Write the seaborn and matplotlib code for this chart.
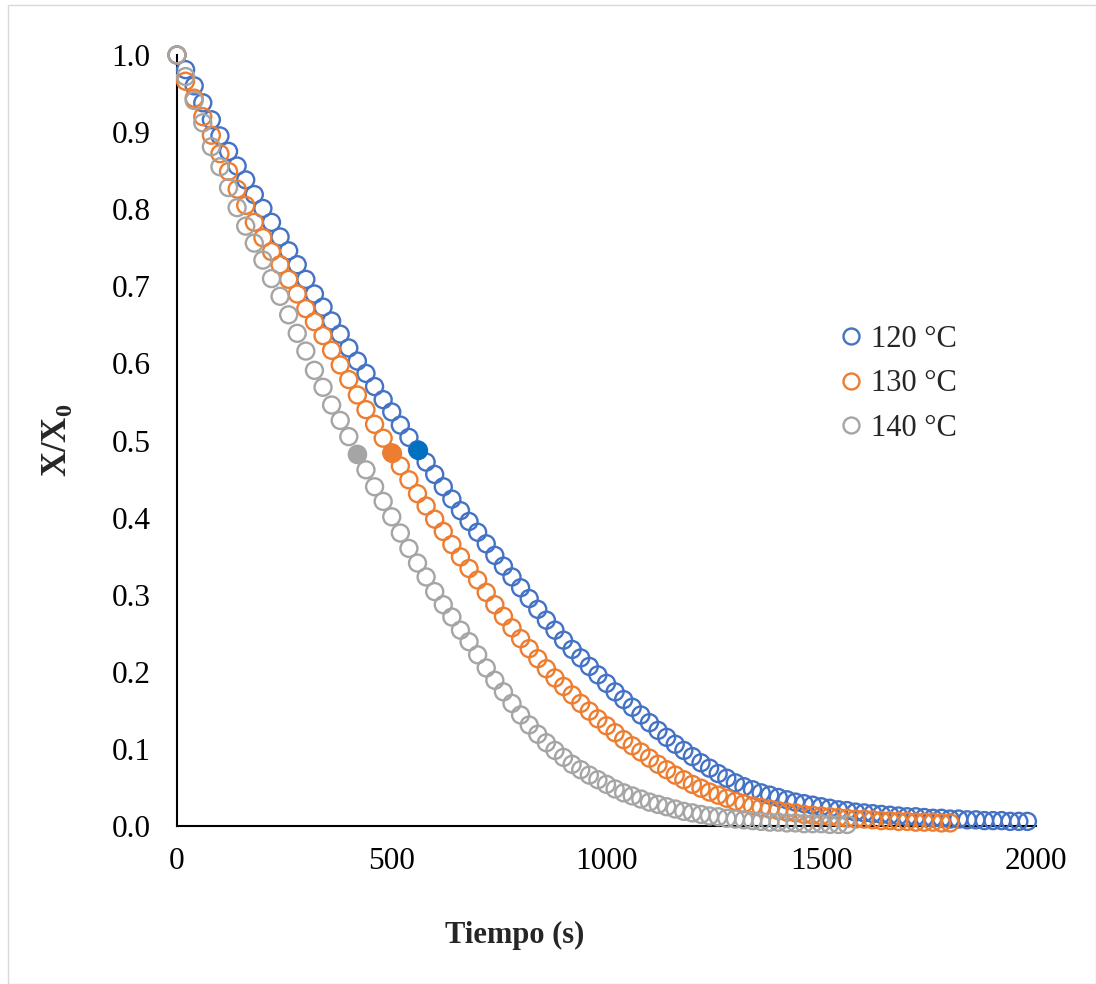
import matplotlib
matplotlib.use("Agg")
import matplotlib.pyplot as plt
from matplotlib.lines import Line2D
from matplotlib.patches import Rectangle
import seaborn as sns
import pandas as pd

# ---------------- data ----------------
t_120 = list(range(0, 2000, 20))
y_120 = [1.000, 0.981, 0.960, 0.938, 0.916, 0.895, 0.875, 0.856, 0.838, 0.819,
         0.801, 0.783, 0.764, 0.746, 0.728, 0.709, 0.690, 0.673, 0.655, 0.638,
         0.620, 0.603, 0.587, 0.570, 0.553, 0.537, 0.520, 0.504, 0.488, 0.472,
         0.456, 0.440, 0.424, 0.409, 0.395, 0.381, 0.366, 0.351, 0.337, 0.323,
         0.309, 0.295, 0.281, 0.267, 0.254, 0.241, 0.229, 0.218, 0.207, 0.196,
         0.185, 0.174, 0.164, 0.154, 0.144, 0.134, 0.124, 0.115, 0.106, 0.098,
         0.090, 0.082, 0.075, 0.068, 0.062, 0.056, 0.051, 0.047, 0.043, 0.040,
         0.037, 0.034, 0.031, 0.029, 0.027, 0.025, 0.023, 0.021, 0.020, 0.018,
         0.017, 0.016, 0.015, 0.014, 0.013, 0.012, 0.012, 0.011, 0.010, 0.010,
         0.009, 0.009, 0.008, 0.008, 0.007, 0.007, 0.007, 0.006, 0.006, 0.006]

t_130 = list(range(0, 1820, 20))
y_130 = [1.000, 0.966, 0.944, 0.920, 0.896, 0.872, 0.849, 0.826, 0.805, 0.783,
         0.763, 0.745, 0.728, 0.709, 0.690, 0.671, 0.654, 0.636, 0.617, 0.598,
         0.579, 0.559, 0.540, 0.521, 0.503, 0.484, 0.467, 0.449, 0.431, 0.415,
         0.398, 0.382, 0.365, 0.349, 0.334, 0.319, 0.303, 0.287, 0.272, 0.257,
         0.243, 0.230, 0.217, 0.204, 0.192, 0.181, 0.170, 0.159, 0.149, 0.139,
         0.130, 0.121, 0.112, 0.104, 0.096, 0.088, 0.080, 0.073, 0.066, 0.060,
         0.054, 0.049, 0.044, 0.040, 0.036, 0.032, 0.029, 0.026, 0.024, 0.022,
         0.020, 0.018, 0.017, 0.015, 0.014, 0.013, 0.012, 0.011, 0.010, 0.009,
         0.009, 0.008, 0.007, 0.007, 0.006, 0.006, 0.005, 0.005, 0.005, 0.004,
         0.004]

t_140 = list(range(0, 1580, 20))
y_140 = [1.000, 0.972, 0.941, 0.912, 0.881, 0.855, 0.828, 0.802, 0.778, 0.756,
         0.734, 0.710, 0.687, 0.663, 0.639, 0.616, 0.591, 0.569, 0.546, 0.526,
         0.505, 0.482, 0.462, 0.440, 0.421, 0.401, 0.380, 0.360, 0.341, 0.323,
         0.304, 0.287, 0.271, 0.254, 0.239, 0.222, 0.205, 0.189, 0.174, 0.159,
         0.144, 0.131, 0.119, 0.108, 0.098, 0.089, 0.080, 0.073, 0.066, 0.060,
         0.054, 0.048, 0.043, 0.039, 0.035, 0.031, 0.028, 0.025, 0.022, 0.019,
         0.017, 0.015, 0.013, 0.012, 0.010, 0.009, 0.008, 0.007, 0.006, 0.005,
         0.005, 0.004, 0.004, 0.003, 0.003, 0.003, 0.002, 0.002, 0.002]

series_names = ["120 °C", "130 °C", "140 °C"]
series_colors = ["#4472C4", "#ED7D31", "#A5A5A5"]
highlight_colors = ["#0070C0", "#ED7D31", "#A5A5A5"]
highlight_times = [560, 500, 420]

x_ticks = [0, 500, 1000, 1500, 2000]
y_ticks = [0.0, 0.1, 0.2, 0.3, 0.4, 0.5, 0.6, 0.7, 0.8, 0.9, 1.0]

# ---------------- build tables ----------------
frames = []
for name, t, y in zip(series_names, [t_120, t_130, t_140], [y_120, y_130, y_140]):
    frames.append(pd.DataFrame({"t": t, "r": y, "serie": name}))
df = pd.concat(frames, ignore_index=True)

hl_rows = []
for name, ht in zip(series_names, highlight_times):
    sub = df[(df["serie"] == name) & (df["t"] == ht)]
    hl_rows.append(sub)
hl = pd.concat(hl_rows, ignore_index=True)

# ---------------- style ----------------
sns.set_theme(style="white")
plt.rcParams["font.family"] = ["Liberation Serif", "DejaVu Serif"]
plt.rcParams["mathtext.fontset"] = "custom"
plt.rcParams["mathtext.rm"] = "Liberation Serif"
plt.rcParams["mathtext.bf"] = "Liberation Serif:bold"

fig = plt.figure(figsize=(10.96, 9.84), dpi=100)
fig.patch.set_facecolor("white")
ax = fig.add_axes([177 / 1096, 1 - 826 / 984, (1036 - 177) / 1096, (826 - 55) / 984])

# chart area border
fig.patches.append(Rectangle((8 / 1096, 0.0), 1 - 8 / 1096 - 0.5 / 1096, 1 - 5 / 984,
                             transform=fig.transFigure, fill=False,
                             edgecolor="#D9D9D9", linewidth=1.0))

for name, col in zip(series_names, series_colors):
    sub = df[df["serie"] == name]
    sns.scatterplot(data=sub, x="t", y="r", ax=ax, s=150, marker="o",
                    color=col, linewidth=1.7, legend=False, clip_on=False, zorder=3)
    coll = ax.collections[-1]
    coll.set_facecolor("none")
    coll.set_edgecolor(col)

for (_, row), hc in zip(hl.iterrows(), highlight_colors):
    sns.scatterplot(x=[row["t"]], y=[row["r"]], ax=ax, s=150, marker="o",
                    color=hc, linewidth=1.7, edgecolor=hc, legend=False,
                    clip_on=False, zorder=4)

ax.set_xlim(0, 2000)
ax.set_ylim(0, 1.0)
ax.set_xticks(x_ticks)
ax.set_yticks(y_ticks)
ax.set_xticklabels([str(v) for v in x_ticks])
ax.set_yticklabels([f"{v:.1f}" for v in y_ticks])
ax.tick_params(axis="both", length=0, labelsize=22.5, colors="black")
ax.tick_params(axis="x", pad=15)
ax.tick_params(axis="y", pad=19)

for side in ["top", "right"]:
    ax.spines[side].set_visible(False)
for side in ["left", "bottom"]:
    ax.spines[side].set_color("black")
    ax.spines[side].set_linewidth(1.5)
ax.set_facecolor("white")

ax.set_xlabel("Tiempo (s)", fontsize=22, fontweight="bold", labelpad=0)
ax.xaxis.label.set_verticalalignment("center")
ax.xaxis.set_label_coords((515 - 177) / (1036 - 177), -(935 - 826) / (826 - 55))
ax.set_ylabel(r"X/X$_{\mathbf{0}}$", fontsize=25, fontweight="bold")
ax.yaxis.label.set_verticalalignment("center")
ax.yaxis.set_label_coords(-(177 - 57) / (1036 - 177), (826 - 440) / (826 - 55))

handles = [Line2D([0], [0], linestyle="none", marker="o", markersize=11.5,
                  markerfacecolor="none", markeredgecolor=c, markeredgewidth=1.7)
           for c in series_colors]
leg = ax.legend(handles, series_names, loc="upper left",
                bbox_to_anchor=(836 / 1096, 1 - 325 / 984), bbox_transform=fig.transFigure,
                frameon=False, fontsize=22, handletextpad=0.15, handlelength=1.0,
                labelspacing=0.5, borderpad=0, borderaxespad=0)

fig.savefig("out.png", dpi=100, facecolor="white")
